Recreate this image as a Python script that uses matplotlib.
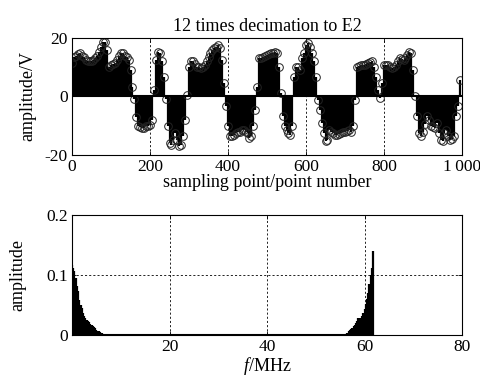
import matplotlib
matplotlib.use("Agg")
import matplotlib.pyplot as plt
import numpy as np

plt.rcParams['font.family'] = ['Liberation Serif', 'DejaVu Serif']
plt.rcParams['mathtext.fontset'] = 'custom'
plt.rcParams['mathtext.it'] = 'Liberation Serif:italic'
plt.rcParams['mathtext.rm'] = 'Liberation Serif'
plt.rcParams['axes.unicode_minus'] = False

# ---- top panel: decimated signal (sampled every 5 points) ----
sample_points = list(range(0, 1000, 5))
amplitude_v = [
    11.5, 13.5, 14, 14.5, 14.8, 14, 13.5, 12.5, 12, 12,
    12, 12.5, 13, 14, 15.3, 17, 18.7, 18.7, 16, 10,
    10.8, 11, 11.4, 12.5, 14, 14.8, 14.8, 14, 13.6, 12.5,
    9, 3.4, -1, -7, -10, -10.5, -10.8, -10.8, -10.2, -10,
    -9.7, -8, 2.3, 12.5, 15.3, 14.8, 12, 6.8, -1, -10,
    -16, -16.5, -14.8, -12.5, -14.8, -17, -16.5, -13.6, -8, 0.5,
    10.2, 12, 12, 11, 10.2, 10, 9.7, 10, 10.8, 12,
    13.6, 15, 16, 16.5, 17, 17.6, 16.5, 12.5, 4.5, -3.4,
    -10.2, -13.6, -13.6, -13, -12.5, -12, -12, -11.5, -11.4, -12,
    -12.5, -14.2, -13.6, -10.2, -4.5, 3.4, 13, 13.3, 13.6, 14,
    14.2, 14.6, 15, 15, 15.3, 14.8, 10.2, 1.1, -6.8, -10.2,
    -11.4, -12.5, -13, -10.2, 6.8, 10.2, 10.2, 9, 13, 14.8,
    17.6, 18.2, 17, 14.8, 12, 6.8, -1.1, -4.5, -9, -12.5,
    -15.3, -14.8, -11.4, -12, -12.5, -13, -13, -12.8, -12.5, -12.2,
    -12, -11.7, -11.4, -12, -10.2, -1.1, 10.2, 10.5, 10.8, 10.8,
    10.8, 11, 11.4, 11.7, 12, 10.2, 6.8, 2.3, -0.5, 4.5,
    10.8, 10.8, 10.8, 10.2, 9.7, 10.2, 10.8, 12, 13, 12.8,
    12.5, 13.3, 14.2, 15.3, 14.8, 9, 0, -6.8, -12.5, -13.6,
    -12, -9.5, -6.8, -8, -10.2, -10.5, -10.8, -9, -12.5, -14.8,
    -15.3, -12.5, -11.4, -13.6, -14.8, -14.5, -13.6, -6.8, -3.4, 5.7,
]
top_xticks = [0, 200, 400, 600, 800, 1000]
top_xticklabels = ['0', '200', '400', '600', '800', '1\u2009000']
top_yticks = [-20, 0, 20]

# ---- bottom panel: spectrum ----
low_freq = [0.0, 0.25, 0.5, 0.75, 1.0, 1.25, 1.5, 1.75, 2.0, 2.25,
            2.5, 2.75, 3.0, 3.25, 3.5, 3.75, 4.0, 4.25, 4.5, 4.75,
            5.0, 5.25, 5.5, 5.75, 6.0, 6.25, 6.5, 6.75, 7.0, 7.25]
low_amp = [0.117, 0.112, 0.106, 0.095, 0.082, 0.074, 0.058, 0.050, 0.045, 0.036,
           0.032, 0.028, 0.025, 0.023, 0.021, 0.019, 0.017, 0.015, 0.013, 0.011,
           0.009, 0.007, 0.006, 0.005, 0.004, 0.003, 0.002, 0.0015, 0.001, 0.0005]
high_freq = [55.75, 56.0, 56.25, 56.5, 56.75, 57.0, 57.25, 57.5, 57.75, 58.0,
             58.25, 58.5, 58.75, 59.0, 59.25, 59.5, 59.75, 60.0, 60.25, 60.5,
             60.75, 61.0, 61.25, 61.5, 61.75]
high_amp = [0.0005, 0.001, 0.002, 0.004, 0.006, 0.008, 0.010, 0.012, 0.015, 0.017,
            0.020, 0.024, 0.028, 0.029, 0.027, 0.031, 0.036, 0.044, 0.052, 0.060,
            0.070, 0.085, 0.100, 0.112, 0.140]
bot_xticks = [20, 40, 60, 80]
bot_yticks = [0, 0.1, 0.2]
bot_yticklabels = ['0', '0.1', '0.2']

fig = plt.figure(figsize=(4.81, 3.81), dpi=100)
ax1 = fig.add_axes([0.1497, 0.5932, 0.8108, 0.3071])
ax2 = fig.add_axes([0.1497, 0.1207, 0.8108, 0.3150])

fs = 13
tfs = 12.5
grid_kw = dict(color='black', linestyle=(0, (2.5, 2.5)), linewidth=0.6)

# top
ml, sl, bl = ax1.stem(sample_points, amplitude_v, linefmt='k-', markerfmt='o', basefmt='k-')
sl.set_linewidth(1.6)
ml.set_markerfacecolor('none')
ml.set_markeredgecolor('#222222')
ml.set_markersize(5.5)
ml.set_markeredgewidth(0.7)
bl.set_linewidth(1.5)
bl.set_xdata([0, 1000])
ax1.set_xlim(0, 1000)
ax1.set_ylim(-20, 20)
ax1.set_xticks(top_xticks)
ax1.set_xticklabels(top_xticklabels)
ax1.set_yticks(top_yticks)
ax1.grid(True, axis='x', **grid_kw)
ax1.set_axisbelow(True)
ax1.set_title('12 times decimation to E2', fontsize=fs, pad=5)
ax1.set_xlabel('sampling point/point number', fontsize=fs, labelpad=-1)
ax1.set_ylabel('amplitude/V', fontsize=fs, labelpad=6)

# bottom
freqs = low_freq + high_freq
amps = low_amp + high_amp
ax2.vlines(freqs, 0, amps, colors='black', linewidth=1.6)
ax2.hlines(0, 0, high_freq[-1], colors='black', linewidth=1.5)
ax2.set_xlim(0, 80)
ax2.set_ylim(0, 0.2)
ax2.set_xticks(bot_xticks)
ax2.set_yticks(bot_yticks)
ax2.set_yticklabels(bot_yticklabels)
ax2.grid(True, **grid_kw)
ax2.set_axisbelow(True)
ax2.set_xlabel('$f$/MHz', fontsize=fs, labelpad=0)
ax2.set_ylabel('amplitude', fontsize=fs, labelpad=14)

for ax in (ax1, ax2):
    ax.tick_params(direction='in', length=3, width=0.6, top=True, right=True,
                   labelsize=tfs, pad=3)
    for s in ax.spines.values():
        s.set_linewidth(0.8)

fig.savefig('out.png', dpi=100)
